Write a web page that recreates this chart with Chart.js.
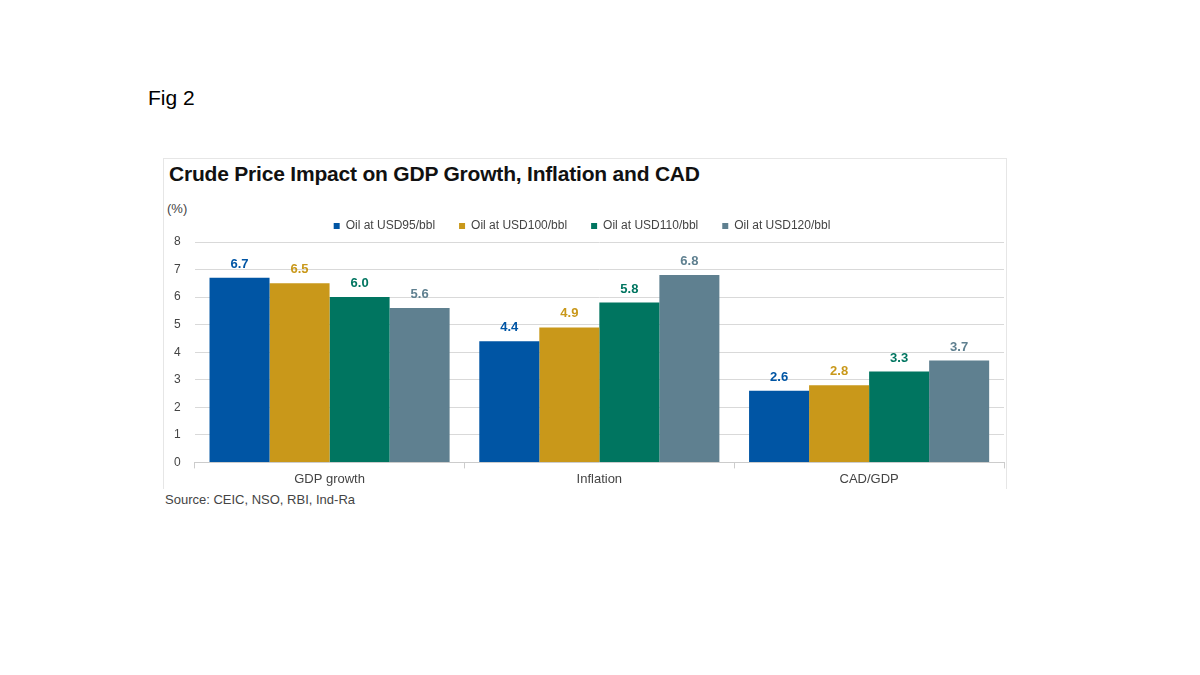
<!DOCTYPE html>
<html><head><meta charset="utf-8">
<script src="https://cdn.jsdelivr.net/npm/chart.js@4"></script>
<style>
body{margin:0;width:1200px;height:675px;background:#fff;font-family:"Liberation Sans",Arial,sans-serif;position:relative;overflow:hidden}
.t{position:absolute;white-space:nowrap}
#frame{position:absolute;left:163px;top:158px;width:842px;height:330px;border:1px solid #e6e6e6;border-bottom:none}
</style></head><body>
<div class="t" style="left:148px;top:86px;font-size:21px;color:#000">Fig 2</div>
<div id="frame"></div>
<div class="t" style="left:169px;top:162px;font-size:21px;font-weight:bold;color:#111;letter-spacing:-0.2px">Crude Price Impact on GDP Growth, Inflation and CAD</div>
<div class="t" style="left:167px;top:201px;font-size:13px;color:#444">(%)</div>
<div class="t" style="left:165px;top:492px;font-size:13px;color:#444">Source: CEIC, NSO, RBI, Ind-Ra</div>
<div style="position:absolute;left:160px;top:196px;width:846px;height:294px"><canvas id="c"></canvas></div>
<script>
const categories=["GDP growth","Inflation","CAD/GDP"];
const seriesNames=["Oil at USD95/bbl","Oil at USD100/bbl","Oil at USD110/bbl","Oil at USD120/bbl"];
const oil95=[6.7,4.4,2.6];
const oil100=[6.5,4.9,2.8];
const oil110=[6.0,5.8,3.3];
const oil120=[5.6,6.8,3.7];
const colors=["#0055A4","#C9981A","#007560","#5F8090"];
const yTicks=[0,1,2,3,4,5,6,7,8];
const vals=[oil95,oil100,oil110,oil120];
const labelPlugin={id:'vl',afterDatasetsDraw(ch){const ctx=ch.ctx;ctx.save();ctx.font='bold 13px "Liberation Sans",Arial';ctx.textAlign='center';ctx.textBaseline='bottom';
ch.data.datasets.forEach((ds,i)=>{ch.getDatasetMeta(i).data.forEach((b,j)=>{ctx.fillStyle=ds.backgroundColor;ctx.fillText(ds.data[j].toFixed(1),b.x,b.y-7);});});ctx.restore();}};
new Chart(document.getElementById('c'),{type:'bar',
data:{labels:categories,datasets:vals.map((v,i)=>({label:seriesNames[i],data:v,backgroundColor:colors[i],borderWidth:0}))},
options:{responsive:true,maintainAspectRatio:false,animation:false,
layout:{padding:{left:0,right:2,top:0,bottom:0}},
datasets:{bar:{categoryPercentage:0.89,barPercentage:1}},
plugins:{legend:{position:'top',labels:{boxWidth:6,boxHeight:6,color:'#444',font:{size:12,family:'"Liberation Sans",Arial'},padding:24},},tooltip:{enabled:false}},
scales:{x:{grid:{display:true,drawOnChartArea:false,color:'#ccc',tickLength:6,offset:true},border:{color:'#ccc'},ticks:{color:'#444',font:{size:13}}},
y:{min:0,max:8,afterBuildTicks:a=>{a.ticks=yTicks.map(v=>({value:v}))},grid:{color:'#d9d9d9',drawTicks:false},border:{display:false},ticks:{color:'#444',font:{size:12},padding:14}}}},
plugins:[labelPlugin]});
</script></body></html>
